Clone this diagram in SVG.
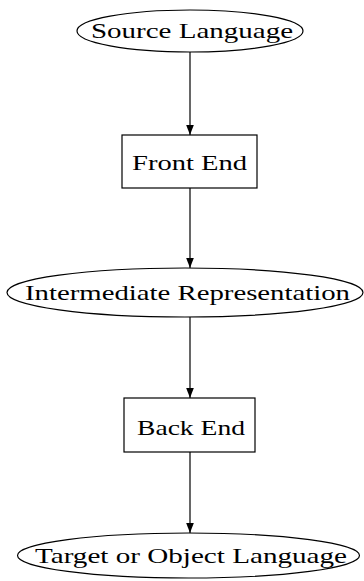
<svg xmlns="http://www.w3.org/2000/svg" width="364" height="581" viewBox="0 0 364 581">
  <style>
    .shape { fill: #ffffff; stroke: #000000; stroke-width: 1.2; }
    .label { font-family: "Liberation Serif", "DejaVu Serif", serif; font-size: 22px; fill: #000000; text-anchor: middle; }
    .edge { stroke: #000000; stroke-width: 1.2; fill: none; marker-end: url(#arrow); }
  </style>
  <defs>
    <marker id="arrow" viewBox="0 0 10 10" refX="10" refY="5" markerWidth="10" markerHeight="10" markerUnits="userSpaceOnUse" orient="auto">
      <path d="M0,1.2 L10,5 L0,8.8 Z" fill="#000000"/>
    </marker>
  </defs>

  <g id="connectors">
    <line class="edge" x1="190" y1="52" x2="190" y2="135"/>
    <line class="edge" x1="190" y1="188" x2="190" y2="268"/>
    <line class="edge" x1="190" y1="317" x2="190" y2="398"/>
    <line class="edge" x1="190" y1="452" x2="190" y2="533"/>
  </g>

  <g id="source-language">
    <ellipse class="shape" cx="190" cy="31" rx="113" ry="21"/>
    <text class="label" x="192" y="38" textLength="202" lengthAdjust="spacingAndGlyphs">Source Language</text>
  </g>

  <g id="front-end">
    <rect class="shape" x="122" y="135" width="135" height="53"/>
    <text class="label" x="189.5" y="170" textLength="115" lengthAdjust="spacingAndGlyphs">Front End</text>
  </g>

  <g id="intermediate-representation">
    <ellipse class="shape" cx="185" cy="292.5" rx="178" ry="24.5"/>
    <text class="label" x="187.5" y="300" textLength="325" lengthAdjust="spacingAndGlyphs">Intermediate Representation</text>
  </g>

  <g id="back-end">
    <rect class="shape" x="124" y="398" width="131" height="54"/>
    <text class="label" x="191" y="435" textLength="108" lengthAdjust="spacingAndGlyphs">Back End</text>
  </g>

  <g id="target-language">
    <ellipse class="shape" cx="188.5" cy="555.5" rx="171" ry="22.5"/>
    <text class="label" x="191" y="563" textLength="312" lengthAdjust="spacingAndGlyphs">Target or Object Language</text>
  </g>
</svg>
